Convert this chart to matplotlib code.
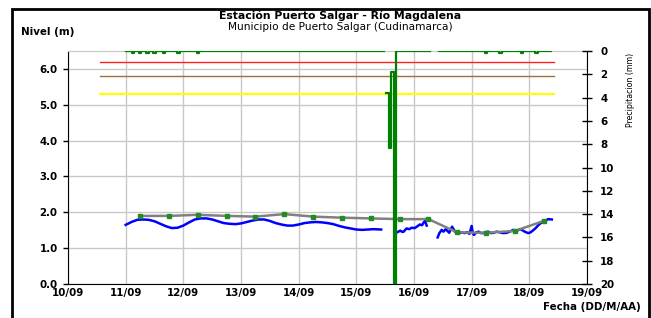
import matplotlib
matplotlib.use("Agg")
import matplotlib.pyplot as plt
import matplotlib.patches as mpatches
import numpy as np

plt.rcParams["font.family"] = ["DejaVu Sans"]

# day of September (fractional) -> value
DAY_TICKS = [10, 11, 12, 13, 14, 15, 16, 17, 18, 19]
DAY_LABELS = ["10/09", "11/09", "12/09", "13/09", "14/09", "15/09", "16/09", "17/09", "18/09", "19/09"]

# alert thresholds (m)
THR_START, THR_END = 10.55, 18.42
THR_RED = 6.2
THR_BROWN = 5.8
THR_YELLOW = 5.3

# water level, continuous sensor (m), three segments separated by gaps
lvl1_t = [11.0, 11.1, 11.2, 11.3, 11.4, 11.5, 11.6, 11.7, 11.8, 11.9,
          12.0, 12.1, 12.2, 12.3, 12.4, 12.5, 12.6, 12.7, 12.8, 12.9,
          13.0, 13.1, 13.2, 13.3, 13.4, 13.5, 13.6, 13.7, 13.8, 13.9,
          14.0, 14.1, 14.2, 14.3, 14.4, 14.5, 14.6, 14.7, 14.8, 14.9,
          15.0, 15.1, 15.2, 15.3, 15.43]
lvl1_v = [1.65, 1.73, 1.79, 1.80, 1.79, 1.75, 1.68, 1.61, 1.56, 1.57,
          1.63, 1.72, 1.80, 1.83, 1.83, 1.80, 1.75, 1.70, 1.68, 1.67,
          1.69, 1.73, 1.77, 1.80, 1.80, 1.76, 1.70, 1.66, 1.63, 1.63,
          1.66, 1.70, 1.72, 1.73, 1.72, 1.70, 1.67, 1.62, 1.58, 1.55,
          1.52, 1.51, 1.52, 1.53, 1.52]
lvl2_t = [15.69, 15.73, 15.76, 15.80, 15.82, 15.87, 15.92, 15.96, 16.01, 16.05,
          16.10, 16.14, 16.16, 16.19, 16.22]
lvl2_v = [1.43, 1.46, 1.49, 1.45, 1.46, 1.55, 1.53, 1.57, 1.56, 1.60,
          1.66, 1.64, 1.70, 1.76, 1.63]
lvl3_t = [16.41, 16.44, 16.48, 16.51, 16.55, 16.58, 16.61, 16.66, 16.71, 16.77,
          16.82, 16.88, 16.92, 16.96, 17.00, 17.02, 17.04, 17.08, 17.12, 17.16,
          17.20, 17.25, 17.29, 17.33, 17.38, 17.43, 17.49, 17.55, 17.61, 17.66,
          17.72, 17.78, 17.84, 17.88, 17.92, 17.98, 18.02, 18.06, 18.11, 18.16,
          18.20, 18.24, 18.29, 18.33, 18.39]
lvl3_v = [1.30, 1.42, 1.51, 1.46, 1.53, 1.48, 1.43, 1.60, 1.46, 1.40,
          1.44, 1.42, 1.45, 1.40, 1.62, 1.41, 1.37, 1.44, 1.46, 1.42,
          1.42, 1.45, 1.46, 1.42, 1.43, 1.46, 1.44, 1.42, 1.43, 1.46,
          1.51, 1.48, 1.53, 1.50, 1.46, 1.42, 1.44, 1.49, 1.56, 1.65,
          1.70, 1.75, 1.78, 1.81, 1.80]

# manual readings (m)
man_t = [11.25, 11.75, 12.25, 12.75, 13.25, 13.75, 14.25, 14.75,
         15.25, 15.75, 16.25, 16.75, 17.25, 17.75, 18.25]
man_v = [1.90, 1.90, 1.93, 1.90, 1.88, 1.95, 1.88, 1.85,
         1.83, 1.81, 1.81, 1.44, 1.43, 1.48, 1.76]

# hourly precipitation (mm); zero except the events below, missing in gaps
RAIN_START, RAIN_HOURS = 11.0, 178
rain_event_t = [11.125, 11.25, 11.375, 11.5, 11.667, 11.917, 12.25,
                15.542, 15.583, 15.625, 15.667,
                17.25, 17.5, 17.875, 18.125]
rain_event_mm = [0.15, 0.15, 0.15, 0.15, 0.15, 0.15, 0.15,
                 3.6, 8.3, 1.8, 25.0,
                 0.15, 0.15, 0.15, 0.15]
rain_gaps = [(15.49, 15.52), (16.29, 16.42)]


def hourly_rain():
    t = RAIN_START + np.arange(RAIN_HOURS) / 24.0
    v = np.zeros(RAIN_HOURS)
    for et, mm in zip(rain_event_t, rain_event_mm):
        v[np.argmin(np.abs(t - et))] = mm
    for g0, g1 in rain_gaps:
        v[(t >= g0) & (t <= g1)] = np.nan
    return t, v


def main():
    fig = plt.figure(figsize=(6.51, 3.18), dpi=100)
    ax = fig.add_axes([0.1045, 0.1069, 0.7972, 0.7327])

    ax.set_xlim(10, 19)
    ax.set_ylim(0, 6.5)
    ax.set_xticks(DAY_TICKS)
    ax.set_xticklabels(DAY_LABELS)
    ax.set_yticks([0, 1, 2, 3, 4, 5, 6])
    ax.set_yticklabels(["0.0", "1.0", "2.0", "3.0", "4.0", "5.0", "6.0"])
    ax.grid(True, color="#c8c8c8", linewidth=1.0, zorder=0)
    ax.set_axisbelow(True)
    for lab in ax.get_xticklabels() + ax.get_yticklabels():
        lab.set_fontweight("bold")
        lab.set_fontsize(7.4)
    ax.tick_params(axis="y", direction="out", length=3.5, width=1, pad=4)
    ax.tick_params(axis="x", direction="out", length=0, width=1, pad=2.6)
    ax.spines["top"].set_color("#c8c8c8")
    ax.spines["right"].set_visible(False)

    # thresholds
    ax.plot([THR_START, THR_END], [THR_RED] * 2, color="#ff2020", linewidth=1.0)
    ax.plot([THR_START, THR_END], [THR_BROWN] * 2, color="#a0703c", linewidth=1.0)
    ax.plot([THR_START, THR_END], [THR_YELLOW] * 2, color="#ffff00", linewidth=1.5)

    # levels
    for tt, vv in [(lvl1_t, lvl1_v), (lvl2_t, lvl2_v), (lvl3_t, lvl3_v)]:
        ax.plot(tt, vv, color="#0000ff", linewidth=1.8, zorder=3)
    ax.plot(man_t, man_v, color="#808080", linewidth=1.8, marker="s",
            markersize=3, markerfacecolor="#228b22", markeredgecolor="#228b22", zorder=4)

    # precipitation on inverted secondary axis
    ax2 = ax.twinx()
    rt, rv = hourly_rain()
    ax2.plot(rt, rv, color="#008000", linewidth=1.6, drawstyle="steps-mid", zorder=5)
    ax2.set_ylim(20, 0)
    ax2.set_yticks(range(0, 21, 2))
    for lab in ax2.get_yticklabels():
        lab.set_fontweight("bold")
        lab.set_fontsize(7.4)
    ax2.tick_params(axis="y", direction="inout", length=7, width=1, pad=6)
    ax2.spines["top"].set_visible(False)
    ax2.spines["left"].set_visible(False)
    ax2.spines["bottom"].set_visible(False)

    fig.text(0.968, 0.717, "Precipitacion (mm)", rotation=90,
             ha="center", va="center", fontsize=5.7)
    fig.text(0.523, 0.9387, "Estación Puerto Salgar - Río Magdalena",
             ha="center", va="baseline", fontsize=7.8, fontweight="bold")
    fig.text(0.523, 0.905, "Municipio de Puerto Salgar (Cudinamarca)",
             ha="center", va="baseline", fontsize=7.6)
    fig.text(0.032, 0.89, "Nivel (m)", ha="left", va="baseline",
             fontsize=7.4, fontweight="bold")
    fig.text(0.985, 0.026, "Fecha (DD/M/AA)", ha="right", va="baseline",
             fontsize=7.4, fontweight="bold")

    fig.patches.append(mpatches.Rectangle((0.019, -0.02), 0.978, 0.992,
                                          transform=fig.transFigure,
                                          fill=False, edgecolor="black", linewidth=2))

    fig.savefig("out.png", dpi=100)


if __name__ == "__main__":
    main()
